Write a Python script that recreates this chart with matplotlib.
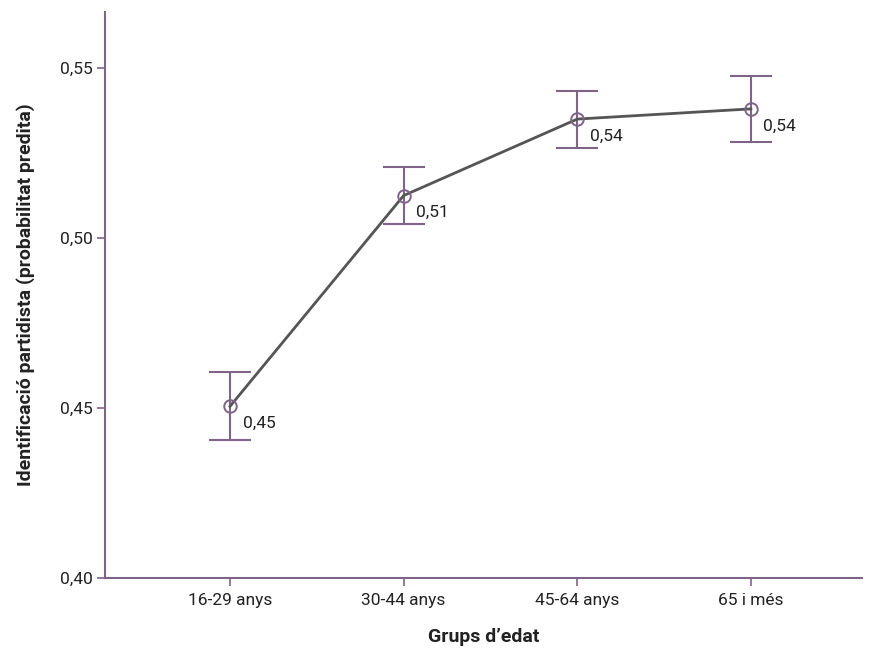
import numpy as np
import matplotlib
matplotlib.use('Agg')
import matplotlib.pyplot as plt

# ==========================================
# Data
# ==========================================
groups = ['16-29 anys', '30-44 anys', '45-64 anys', '65 i més']
prob = [0.4505, 0.5125, 0.5350, 0.5380]
ci_low = [0.4405, 0.5042, 0.5266, 0.5282]
ci_high = [0.4607, 0.5210, 0.5433, 0.5477]
labels = ['0,45', '0,51', '0,54', '0,54']

PURPLE = '#806487'
GREY = '#555555'
TEXT = '#222222'

plt.rcParams['font.family'] = ['Roboto', 'DejaVu Sans']

fig = plt.figure(figsize=(8.74, 6.5), dpi=100)
ax = fig.add_axes([105 / 874, 72 / 650, 757 / 874, 566 / 650])

x = np.arange(len(groups))
prob = np.array(prob)
yerr = [prob - np.array(ci_low), np.array(ci_high) - prob]

ax.errorbar(x, prob, yerr=yerr, fmt='none', ecolor=PURPLE, elinewidth=1.5,
            capsize=15, capthick=1.5, zorder=2)
ax.plot(x, prob, color=GREY, lw=2, zorder=3)
ax.plot(x, prob, 'o', ms=9, mfc='none', mec=PURPLE, mew=1.4, zorder=4)

# value labels, below-right of each point
for xi, yi, lab in zip(x, prob, labels):
    ax.annotate(lab, (xi, yi), xytext=(9, -7), textcoords='offset points',
                fontsize=12.5, color=TEXT, va='top', ha='left')

ax.set_xlim(-0.72, 3.64)
ax.set_ylim(0.40, 0.5665)
ax.set_xticks(x)
ax.set_xticklabels(groups)
ax.set_yticks([0.40, 0.45, 0.50, 0.55])
ax.set_yticklabels(['0,40', '0,45', '0,50', '0,55'])

for s in ['top', 'right']:
    ax.spines[s].set_visible(False)
for s in ['left', 'bottom']:
    ax.spines[s].set_color(PURPLE)
    ax.spines[s].set_linewidth(1.5)

ax.tick_params(axis='both', colors=PURPLE, length=6, width=1.2, labelsize=12.5,
               labelcolor=TEXT)
ax.tick_params(axis='x', pad=5)
ax.tick_params(axis='y', pad=3)

ax.set_xlabel('Grups d\u2019edat', fontsize=14, fontweight='bold', labelpad=14, color=TEXT)
ax.set_ylabel('Identificació partidista (probabilitat predita)', fontsize=14,
              fontweight='bold', labelpad=18, color=TEXT)

fig.savefig('out.png', dpi=100)
